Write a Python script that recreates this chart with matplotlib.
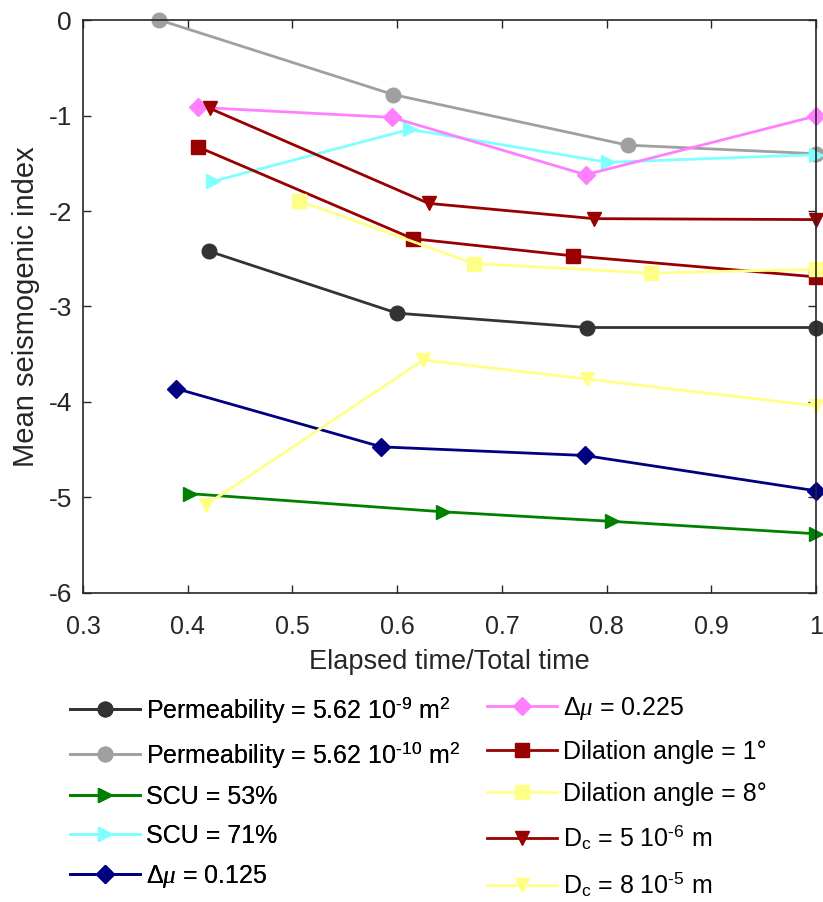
import matplotlib
matplotlib.use('Agg')
import matplotlib.pyplot as plt

plt.rcParams['font.family'] = ['Liberation Sans', 'DejaVu Sans']
plt.rcParams['mathtext.fontset'] = 'custom'
plt.rcParams['mathtext.rm'] = 'Liberation Sans'
plt.rcParams['mathtext.it'] = 'Liberation Serif:italic'

# data
perm9_x = [0.420, 0.600, 0.781, 1.0]
perm9_y = [-2.42, -3.07, -3.22, -3.22]
perm10_x = [0.373, 0.596, 0.820, 1.0]
perm10_y = [0.0, -0.78, -1.31, -1.40]
scu53_x = [0.402, 0.644, 0.805, 1.0]
scu53_y = [-4.96, -5.15, -5.25, -5.38]
scu71_x = [0.424, 0.612, 0.801, 1.0]
scu71_y = [-1.69, -1.145, -1.49, -1.41]
dmu125_x = [0.389, 0.585, 0.779, 1.0]
dmu125_y = [-3.86, -4.47, -4.56, -4.93]
dmu225_x = [0.410, 0.595, 0.780, 1.0]
dmu225_y = [-0.914, -1.02, -1.62, -1.005]
dil1_x = [0.410, 0.615, 0.768, 1.0]
dil1_y = [-1.33, -2.29, -2.47, -2.69]
dil8_x = [0.506, 0.673, 0.842, 1.0]
dil8_y = [-1.89, -2.55, -2.65, -2.61]
dc5_x = [0.421, 0.630, 0.788, 1.0]
dc5_y = [-0.925, -1.92, -2.08, -2.09]
dc8_x = [0.417, 0.625, 0.781, 1.0]
dc8_y = [-5.08, -3.56, -3.76, -4.04]

series = [
    (perm9_x, perm9_y, '#333333', 'o', r'Permeability = 5.62 10$^{\text{-9}}$ m$^{2}$'),
    (perm10_x, perm10_y, '#a0a0a0', 'o', r'Permeability = 5.62 10$^{\text{-10}}$ m$^{2}$'),
    (scu53_x, scu53_y, '#008000', '>', 'SCU = 53%'),
    (scu71_x, scu71_y, '#80ffff', '>', 'SCU = 71%'),
    (dmu125_x, dmu125_y, '#000080', 'D', r'$\Delta\mathit{\mu}$ = 0.125'),
    (dmu225_x, dmu225_y, '#ff80ff', 'D', r'$\Delta\mathit{\mu}$ = 0.225'),
    (dil1_x, dil1_y, '#990000', 's', 'Dilation angle = 1°'),
    (dil8_x, dil8_y, '#ffff88', 's', 'Dilation angle = 8°'),
    (dc5_x, dc5_y, '#990000', 'v', r'D$_{\mathrm{c}}$ = 5 10$^{\text{-6}}$ m'),
    (dc8_x, dc8_y, '#ffff88', 'v', r'D$_{\mathrm{c}}$ = 8 10$^{\text{-5}}$ m'),
]

fig = plt.figure(figsize=(8.23, 9.02), dpi=100)
ax = fig.add_axes([0.1009, 0.3426, 0.8906, 0.6352])

handles = []
for xs, ys, col, mk, lab in series:
    ms = 9 if mk == 'D' else 10.5
    h, = ax.plot(xs, ys, color=col, marker=mk, markersize=ms, linewidth=2,
                 markeredgecolor=col, label=lab, clip_on=False)
    handles.append(h)

ax.set_xlim(0.3, 1.0)
ax.set_ylim(-6, 0)
ax.set_xticks([0.3, 0.4, 0.5, 0.6, 0.7, 0.8, 0.9, 1.0])
ax.set_xticklabels(['0.3', '0.4', '0.5', '0.6', '0.7', '0.8', '0.9', '1'])
ax.set_yticks([-6, -5, -4, -3, -2, -1, 0])
ax.set_yticklabels(['-6', '-5', '-4', '-3', '-2', '-1', '0'])
ax.tick_params(direction='in', top=True, right=True, length=6, width=1,
               colors='#262626')
ax.tick_params(axis='x', labelsize=18, pad=16)
ax.tick_params(axis='y', labelsize=19, pad=8)
for sp in ax.spines.values():
    sp.set_color('#262626')
    sp.set_linewidth(1.2)
ax.set_xlabel('Elapsed time/Total time', fontsize=19.5, color='#262626', labelpad=7)
ax.set_ylabel('Mean seismogenic index', fontsize=21, color='#262626', labelpad=6)

# legend below the axes, one box per column so the rows line up
leg_kw = dict(frameon=False, fontsize=18, loc='upper left', borderpad=0,
              borderaxespad=0, handlelength=2.8, handletextpad=0.25)
left = fig.legend(handles=handles[:5], bbox_to_anchor=(0.085, 0.2297),
                  labelspacing=0.6, **leg_kw)
fig.add_artist(left)
fig.legend(handles=handles[5:], bbox_to_anchor=(0.592, 0.2297),
           labelspacing=0.72, **leg_kw)

fig.savefig('out.png', dpi=100, facecolor='white')
